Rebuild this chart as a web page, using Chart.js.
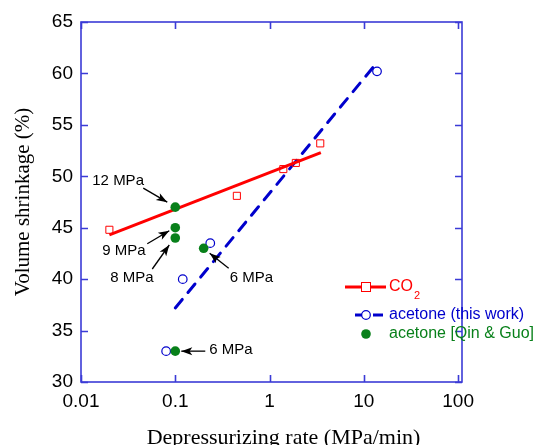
<!DOCTYPE html>
<html>
<head>
<meta charset="utf-8">
<script src="https://cdn.jsdelivr.net/npm/chart.js@4.4.1/dist/chart.umd.min.js"></script>
<style>
  html, body { margin: 0; padding: 0; background: #fff; }
  #wrap { width: 533px; height: 445px; position: relative; }
</style>
</head>
<body>
<div id="wrap"><canvas id="chart"></canvas></div>
<script>
// data
const co2Rate = [0.02, 0.45, 1.4, 1.9, 3.45];
const co2Shrink = [44.8, 48.1, 50.7, 51.3, 53.2];
const co2FitRate = [0.02, 3.5];
const co2FitShrink = [44.3, 52.3];

const acetoneRate = [0.08, 0.12, 0.235, 13.8];
const acetoneShrink = [33.0, 40.0, 43.5, 60.2];
const acetoneFitRate = [0.1, 12.8];
const acetoneFitShrink = [37.2, 60.7];

const qinRate = [0.1, 0.1, 0.1, 0.2, 0.1];
const qinShrink = [47.0, 45.0, 44.0, 43.0, 33.0];
const qinLabels = ["12 MPa", "9 MPa", "8 MPa", "6 MPa", "6 MPa"];

const xTicks = [0.01, 0.1, 1, 10, 100];
const yTicks = [30, 35, 40, 45, 50, 55, 60, 65];

const axisBlue = "#3b3bd6";
const sans = "'Liberation Sans', Arial, sans-serif";
const serif = "'Liberation Serif', 'Times New Roman', serif";

// helper to zip x and y arrays into points
const toPts = (xs, ys) => xs.map((x, i) => ({ x: x, y: ys[i] }));

// text offset + arrow (relative to the labelled point)
const notes = [
  { tx: -83, ty: -26, a: [-32, -19, -8, -5] },
  { tx: -73, ty: 23, a: [-28, 16, -6, 3] },
  { tx: -65, ty: 40, a: [-23, 31, -6, 7] },
  { tx: 26, ty: 30, a: [25, 20, 6, 5] },
  { tx: 34, ty: -1, a: [30, 0, 6, 0] }
];

const drawArrow = (ctx, x0, y0, x1, y1) => {
  ctx.beginPath();
  ctx.moveTo(x0, y0);
  ctx.lineTo(x1, y1);
  ctx.stroke();
  const ang = Math.atan2(y1 - y0, x1 - x0);
  const c = Math.cos(ang), s = Math.sin(ang);
  const len = 11, w = 4;
  ctx.beginPath();
  ctx.moveTo(x1, y1);
  ctx.lineTo(x1 - len * c + w * s, y1 - len * s - w * c);
  ctx.lineTo(x1 - len * c * 0.75, y1 - len * s * 0.75);
  ctx.lineTo(x1 - len * c - w * s, y1 - len * s + w * c);
  ctx.closePath();
  ctx.fill();
};

// frame, inward ticks, x title, annotations and legend
const extrasPlugin = {
  id: "extras",
  afterDatasetsDraw(chart) {
    const ctx = chart.ctx;
    const area = chart.chartArea;
    const xs = chart.scales.x, ys = chart.scales.y;
    ctx.save();

    // box and ticks
    ctx.strokeStyle = axisBlue;
    ctx.lineWidth = 1.6;
    ctx.strokeRect(area.left, area.top, area.right - area.left, area.bottom - area.top);
    ctx.beginPath();
    xTicks.forEach((v) => {
      const px = Math.round(xs.getPixelForValue(v)) + 0.5;
      ctx.moveTo(px, area.bottom); ctx.lineTo(px, area.bottom - 7);
      ctx.moveTo(px, area.top); ctx.lineTo(px, area.top + 7);
    });
    yTicks.forEach((v) => {
      const py = Math.round(ys.getPixelForValue(v)) + 0.5;
      ctx.moveTo(area.left, py); ctx.lineTo(area.left + 7, py);
      ctx.moveTo(area.right, py); ctx.lineTo(area.right - 7, py);
    });
    ctx.stroke();

    // x axis title (sits a little right of the axis centre in the original)
    ctx.fillStyle = "#000";
    ctx.font = "22px " + serif;
    ctx.textAlign = "center";
    ctx.textBaseline = "alphabetic";
    ctx.fillText("Depressurizing rate (MPa/min)", 283.5, 444);

    // pressure labels with arrows
    ctx.strokeStyle = "#000";
    ctx.lineWidth = 1.3;
    ctx.font = "15px " + sans;
    ctx.textBaseline = "middle";
    ctx.textAlign = "left";
    qinLabels.forEach((lab, i) => {
      const px = xs.getPixelForValue(qinRate[i]);
      const py = ys.getPixelForValue(qinShrink[i]);
      const n = notes[i];
      ctx.fillText(lab, px + n.tx, py + n.ty);
      drawArrow(ctx, px + n.a[0], py + n.a[1], px + n.a[2], py + n.a[3]);
    });

    // legend
    const lx = 345, ly = 287;
    ctx.lineWidth = 3;
    ctx.strokeStyle = "#ff0000";
    ctx.beginPath(); ctx.moveTo(lx, ly); ctx.lineTo(lx + 41, ly); ctx.stroke();
    ctx.lineWidth = 1;
    ctx.fillStyle = "#fff";
    ctx.fillRect(lx + 16.5, ly - 4.5, 9, 9);
    ctx.strokeRect(lx + 16.5, ly - 4.5, 9, 9);
    ctx.fillStyle = "#ff0000";
    ctx.font = "16px " + sans;
    ctx.fillText("CO", lx + 44, ly);
    const coW = ctx.measureText("CO").width;
    ctx.font = "11px " + sans;
    ctx.fillText("2", lx + 44 + coW + 1, ly + 9);

    const by = 315;
    ctx.strokeStyle = "#0000cc";
    ctx.lineWidth = 3;
    ctx.beginPath(); ctx.moveTo(lx + 10, by); ctx.lineTo(lx + 17, by); ctx.stroke();
    ctx.beginPath(); ctx.moveTo(lx + 28, by); ctx.lineTo(lx + 38, by); ctx.stroke();
    ctx.lineWidth = 1.2;
    ctx.beginPath(); ctx.arc(lx + 21, by, 4.3, 0, Math.PI * 2); ctx.stroke();
    ctx.fillStyle = "#0000cc";
    ctx.font = "16px " + sans;
    ctx.fillText("acetone (this work)", lx + 44, by);

    const gy = 334;
    ctx.fillStyle = "#08801a";
    ctx.beginPath(); ctx.arc(lx + 21, gy, 4.8, 0, Math.PI * 2); ctx.fill();
    ctx.fillText("acetone [Qin & Guo]", lx + 44, gy);

    ctx.restore();
  }
};

new Chart(document.getElementById("chart"), {
  type: "scatter",
  data: {
    datasets: [
      {
        label: "acetone [Qin & Guo]",
        data: toPts(qinRate, qinShrink),
        backgroundColor: "#08801a",
        borderColor: "#08801a",
        pointRadius: 4.8,
        borderWidth: 0,
        order: 0
      },
      {
        label: "CO2 fit",
        type: "line",
        data: toPts(co2FitRate, co2FitShrink),
        borderColor: "#ff0000",
        borderWidth: 3,
        pointRadius: 0,
        fill: false,
        order: 1
      },
      {
        label: "CO2",
        data: toPts(co2Rate, co2Shrink),
        pointStyle: "rect",
        backgroundColor: "rgba(0,0,0,0)",
        borderColor: "#ff0000",
        borderWidth: 1,
        pointRadius: 5,
        order: 2
      },
      {
        label: "acetone fit",
        type: "line",
        data: toPts(acetoneFitRate, acetoneFitShrink),
        borderColor: "#0000cc",
        borderWidth: 3,
        borderDash: [11, 9],
        borderCapStyle: "round",
        pointRadius: 0,
        fill: false,
        order: 3
      },
      {
        label: "acetone (this work)",
        data: toPts(acetoneRate, acetoneShrink),
        backgroundColor: "rgba(0,0,0,0)",
        borderColor: "#0000cc",
        borderWidth: 1.2,
        pointRadius: 4.3,
        order: 4
      }
    ]
  },
  options: {
    responsive: true,
    maintainAspectRatio: false,
    animation: false,
    events: [],
    layout: { padding: { top: 22, right: 71, left: 0, bottom: 0 } },
    plugins: { legend: { display: false }, tooltip: { enabled: false } },
    scales: {
      x: {
        type: "logarithmic",
        min: 0.01,
        max: 110,
        afterBuildTicks: (scale) => {
          scale.ticks = xTicks.map((v) => ({ value: v }));
        },
        afterFit: (scale) => { scale.height = 63; },
        ticks: {
          autoSkip: false,
          maxRotation: 0,
          padding: 8,
          color: "#000",
          font: { family: sans, size: 19 },
          callback: (v) => String(v)
        },
        grid: { display: false, drawTicks: false },
        border: { display: false },
        title: { display: false }
      },
      y: {
        min: 30,
        max: 65,
        afterBuildTicks: (scale) => {
          scale.ticks = yTicks.map((v) => ({ value: v }));
        },
        afterFit: (scale) => { scale.width = 81; },
        ticks: {
          padding: 8,
          color: "#000",
          font: { family: sans, size: 19 }
        },
        grid: { display: false, drawTicks: false },
        border: { display: false },
        title: {
          display: true,
          text: "Volume shrinkage (%)",
          color: "#000",
          font: { family: serif, size: 21 },
          padding: { top: 11, bottom: 0 }
        }
      }
    }
  },
  plugins: [extrasPlugin]
});
</script>
</body>
</html>
